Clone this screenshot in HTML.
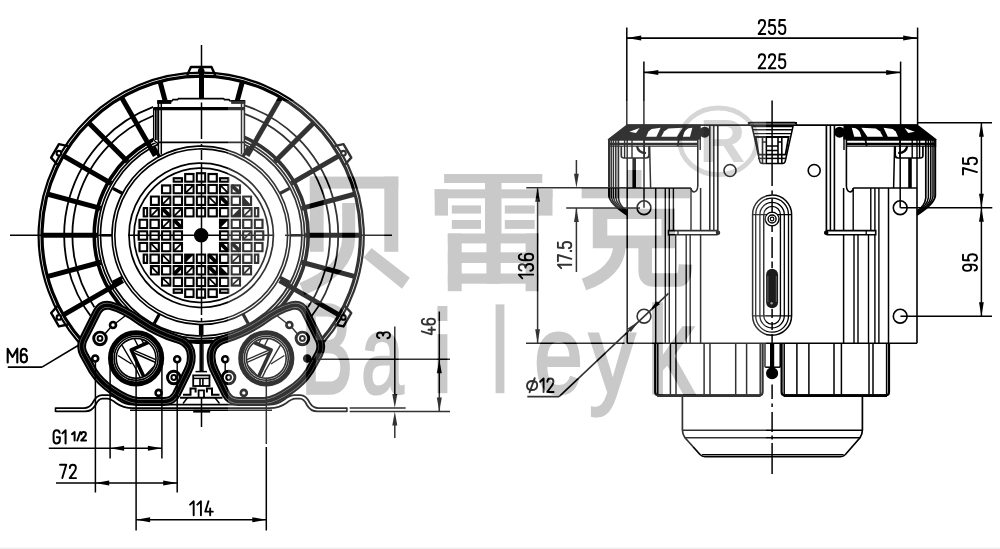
<!DOCTYPE html>
<html><head><meta charset="utf-8"><title>drawing</title>
<style>html,body{margin:0;padding:0;background:#fff;}body{width:1000px;height:549px;overflow:hidden;font-family:"Liberation Sans",sans-serif;}svg{display:block}</style>
</head><body>
<svg width="1000" height="549" viewBox="0 0 1000 549">
<rect width="1000" height="549" fill="#fff"/>
<rect x="0" y="547.5" width="1000" height="1.5" fill="#efefef"/>

<g stroke="#000" fill="none" stroke-linecap="butt">
<path d="M78.48,341.98 A162.6,162.6 0 1 1 323.92,341.98" stroke-width="2.2" />
<path d="M82.89,341.83 A159.2,159.2 0 1 1 319.51,341.83" stroke-width="3.2" />
<path d="M93.24,319.65 A137,137 0 0 1 153.30,106.95" stroke-width="1.8" />
<path d="M244.40,105.29 A137,137 0 0 1 309.16,319.65" stroke-width="1.8" />
<path d="M94.42,307.32 A128.8,128.8 0 0 1 153.30,115.74" stroke-width="1.8" />
<path d="M244.40,113.96 A128.8,128.8 0 0 1 307.98,307.32" stroke-width="1.8" />
<line x1="122.82" y1="280.55" x2="63.07" y2="315.05" stroke-width="5.0" />
<line x1="100.74" y1="262.22" x2="47.13" y2="276.58" stroke-width="5.0" />
<line x1="97.20" y1="235.30" x2="41.70" y2="235.30" stroke-width="5.0" />
<line x1="100.74" y1="208.38" x2="47.13" y2="194.02" stroke-width="5.0" />
<line x1="111.13" y1="183.30" x2="63.07" y2="155.55" stroke-width="5.0" />
<line x1="127.66" y1="161.76" x2="88.42" y2="122.52" stroke-width="5.0" />
<line x1="155.20" y1="155.63" x2="121.45" y2="97.17" stroke-width="5.0" />
<line x1="165.22" y1="101.04" x2="159.92" y2="81.23" stroke-width="5.0" />
<line x1="237.18" y1="101.04" x2="242.48" y2="81.23" stroke-width="5.0" />
<line x1="247.20" y1="155.63" x2="280.95" y2="97.17" stroke-width="5.0" />
<line x1="274.74" y1="161.76" x2="313.98" y2="122.52" stroke-width="5.0" />
<line x1="291.27" y1="183.30" x2="339.33" y2="155.55" stroke-width="5.0" />
<line x1="301.66" y1="208.38" x2="355.27" y2="194.02" stroke-width="5.0" />
<line x1="305.20" y1="235.30" x2="360.70" y2="235.30" stroke-width="5.0" />
<line x1="301.66" y1="262.22" x2="355.27" y2="276.58" stroke-width="5.0" />
<line x1="279.58" y1="280.55" x2="339.33" y2="315.05" stroke-width="5.0" />
<line x1="201.50" y1="70.00" x2="201.50" y2="99.00" stroke-width="5" />
<path d="M67.94,324.48 L58.91,326.45 L51.11,312.95 L57.34,306.12" stroke-width="2.4" fill="none" stroke-linejoin="round"/>
<circle cx="58.91" cy="317.45" r="2.3" stroke-width="2.1" fill="#fff" />
<path d="M57.34,164.48 L51.11,157.65 L58.91,144.15 L67.94,146.12" stroke-width="2.4" fill="none" stroke-linejoin="round"/>
<circle cx="58.91" cy="153.15" r="2.3" stroke-width="2.1" fill="#fff" />
<path d="M187.20,75.30 L190.90,67.00 L211.50,67.00 L215.20,75.30" stroke-width="2.4" fill="none" stroke-linejoin="round"/>
<circle cx="201.20" cy="71.00" r="2.3" stroke-width="2.1" fill="#000" />
<path d="M334.46,146.12 L343.49,144.15 L351.29,157.65 L345.06,164.48" stroke-width="2.4" fill="none" stroke-linejoin="round"/>
<circle cx="343.49" cy="153.15" r="2.3" stroke-width="2.1" fill="#fff" />
<path d="M345.06,306.12 L351.29,312.95 L343.49,326.45 L334.46,324.48" stroke-width="2.4" fill="none" stroke-linejoin="round"/>
<circle cx="343.49" cy="317.45" r="2.3" stroke-width="2.1" fill="#fff" />
<path d="M308.20,235.30 A107.0,107.0 0 1 1 308.20,235.28" stroke-width="3.6" />
<path d="M304.60,235.30 A103.4,103.4 0 1 1 304.60,235.28" stroke-width="1.7" />
<path d="M301.90,235.30 A100.7,100.7 0 1 1 301.90,235.28" stroke-width="1.7" />
<path d="M290.40,235.30 A89.2,89.2 0 1 1 290.40,235.28" stroke-width="1.6" />
<path d="M287.60,235.30 A86.4,86.4 0 1 1 287.60,235.28" stroke-width="1.6" />
<path d="M273.40,235.30 A72.2,72.2 0 1 1 273.40,235.29" stroke-width="1.7" />
<path d="M268.40,235.30 A67.2,67.2 0 1 1 268.40,235.29" stroke-width="1.7" />
<line x1="290.10" y1="235.30" x2="301.10" y2="235.30" stroke-width="2.6" />
<line x1="112.30" y1="235.30" x2="101.30" y2="235.30" stroke-width="2.6" />
<line x1="201.20" y1="324.20" x2="201.20" y2="335.20" stroke-width="4.6" />
<line x1="242.98" y1="313.88" x2="248.15" y2="323.59" stroke-width="3.2" />
<line x1="159.42" y1="313.88" x2="154.25" y2="323.59" stroke-width="3.2" />
<line x1="122.62" y1="277.08" x2="112.91" y2="282.25" stroke-width="3.2" />
<line x1="122.62" y1="193.52" x2="112.91" y2="188.35" stroke-width="3.2" />
<line x1="159.42" y1="156.72" x2="154.25" y2="147.01" stroke-width="3.2" />
<line x1="242.98" y1="156.72" x2="248.15" y2="147.01" stroke-width="3.2" />
<line x1="279.78" y1="193.52" x2="289.49" y2="188.35" stroke-width="3.2" />
<line x1="279.78" y1="277.08" x2="289.49" y2="282.25" stroke-width="3.2" />
<clipPath id="gclip"><circle cx="201.00" cy="235.50" r="65"/></clipPath>
<g clip-path="url(#gclip)">
<rect x="143.74" y="208.05" width="3.51" height="8.50" stroke-width="2.2"/>
<rect x="139.51" y="219.65" width="7.74" height="8.50" stroke-width="2.2"/>
<rect x="138.75" y="231.25" width="8.50" height="8.50" stroke-width="2.2"/>
<rect x="139.51" y="242.85" width="7.74" height="8.50" stroke-width="2.2"/>
<rect x="143.74" y="254.45" width="3.51" height="8.50" stroke-width="2.2"/>
<rect x="150.93" y="196.45" width="7.92" height="8.50" stroke-width="2.2"/>
<rect x="150.35" y="208.05" width="8.50" height="8.50" stroke-width="2.2"/>
<line x1="150.35" y1="216.55" x2="158.85" y2="208.05" stroke-width="1.7" />
<rect x="150.35" y="219.65" width="8.50" height="8.50" stroke-width="2.2"/>
<rect x="150.35" y="231.25" width="8.50" height="8.50" stroke-width="2.2"/>
<rect x="150.35" y="242.85" width="8.50" height="8.50" stroke-width="2.2"/>
<line x1="150.35" y1="242.85" x2="158.85" y2="251.35" stroke-width="1.7" />
<rect x="150.35" y="254.45" width="8.50" height="8.50" stroke-width="2.2"/>
<rect x="150.93" y="266.05" width="7.92" height="8.50" stroke-width="2.2"/>
<line x1="150.93" y1="266.05" x2="158.85" y2="274.55" stroke-width="1.7" />
<rect x="161.95" y="185.43" width="8.50" height="7.92" stroke-width="2.2"/>
<rect x="161.95" y="196.45" width="8.50" height="8.50" stroke-width="2.2"/>
<line x1="161.95" y1="204.95" x2="170.45" y2="196.45" stroke-width="1.7" />
<rect x="161.95" y="208.05" width="8.50" height="8.50" stroke-width="2.2"/>
<line x1="161.95" y1="208.05" x2="170.45" y2="216.55" stroke-width="3.8" />
<rect x="161.95" y="219.65" width="8.50" height="8.50" stroke-width="2.2"/>
<line x1="161.95" y1="228.15" x2="170.45" y2="219.65" stroke-width="1.7" />
<rect x="161.95" y="231.25" width="8.50" height="8.50" stroke-width="2.2"/>
<rect x="161.95" y="242.85" width="8.50" height="8.50" stroke-width="2.2"/>
<rect x="161.95" y="254.45" width="8.50" height="8.50" stroke-width="2.2"/>
<line x1="161.95" y1="254.45" x2="170.45" y2="262.95" stroke-width="1.7" />
<rect x="161.95" y="266.05" width="8.50" height="8.50" stroke-width="2.2"/>
<rect x="161.95" y="277.65" width="8.50" height="7.92" stroke-width="2.2"/>
<line x1="161.95" y1="277.65" x2="170.45" y2="285.57" stroke-width="1.7" />
<rect x="173.55" y="178.24" width="8.50" height="3.51" stroke-width="2.2"/>
<rect x="173.55" y="184.85" width="8.50" height="8.50" stroke-width="2.2"/>
<rect x="173.55" y="196.45" width="8.50" height="8.50" stroke-width="2.2"/>
<rect x="173.55" y="208.05" width="8.50" height="8.50" stroke-width="2.2"/>
<line x1="173.55" y1="216.55" x2="182.05" y2="208.05" stroke-width="1.7" />
<rect x="173.55" y="219.65" width="8.50" height="8.50" stroke-width="2.2"/>
<line x1="173.55" y1="219.65" x2="182.05" y2="228.15" stroke-width="3.8" />
<rect x="173.55" y="231.25" width="8.50" height="8.50" stroke-width="2.2"/>
<rect x="173.55" y="242.85" width="8.50" height="8.50" stroke-width="2.2"/>
<line x1="173.55" y1="251.35" x2="182.05" y2="242.85" stroke-width="1.7" />
<rect x="173.55" y="254.45" width="8.50" height="8.50" stroke-width="2.2"/>
<rect x="173.55" y="266.05" width="8.50" height="8.50" stroke-width="2.2"/>
<line x1="173.55" y1="274.55" x2="182.05" y2="266.05" stroke-width="3.8" />
<rect x="173.55" y="277.65" width="8.50" height="8.50" stroke-width="2.2"/>
<rect x="173.55" y="289.25" width="8.50" height="3.51" stroke-width="2.2"/>
<rect x="185.15" y="174.01" width="8.50" height="7.74" stroke-width="2.2"/>
<rect x="185.15" y="184.85" width="8.50" height="8.50" stroke-width="2.2"/>
<line x1="185.15" y1="193.35" x2="193.65" y2="184.85" stroke-width="1.7" />
<rect x="185.15" y="196.45" width="8.50" height="8.50" stroke-width="2.2"/>
<rect x="185.15" y="208.05" width="8.50" height="8.50" stroke-width="2.2"/>
<rect x="185.15" y="254.45" width="8.50" height="8.50" stroke-width="2.2"/>
<polygon points="185.15,254.45 193.65,254.45 185.15,262.95" fill="#000" stroke="none"/>
<rect x="185.15" y="266.05" width="8.50" height="8.50" stroke-width="2.2"/>
<line x1="185.15" y1="274.55" x2="193.65" y2="266.05" stroke-width="1.7" />
<rect x="185.15" y="277.65" width="8.50" height="8.50" stroke-width="2.2"/>
<rect x="185.15" y="289.25" width="8.50" height="7.74" stroke-width="2.2"/>
<rect x="196.75" y="173.25" width="8.50" height="8.50" stroke-width="2.2"/>
<rect x="196.75" y="184.85" width="8.50" height="8.50" stroke-width="2.2"/>
<rect x="196.75" y="196.45" width="8.50" height="8.50" stroke-width="2.2"/>
<rect x="196.75" y="208.05" width="8.50" height="8.50" stroke-width="2.2"/>
<rect x="196.75" y="254.45" width="8.50" height="8.50" stroke-width="2.2"/>
<rect x="196.75" y="266.05" width="8.50" height="8.50" stroke-width="2.2"/>
<rect x="196.75" y="277.65" width="8.50" height="8.50" stroke-width="2.2"/>
<rect x="196.75" y="289.25" width="8.50" height="8.50" stroke-width="2.2"/>
<rect x="208.35" y="174.01" width="8.50" height="7.74" stroke-width="2.2"/>
<rect x="208.35" y="184.85" width="8.50" height="8.50" stroke-width="2.2"/>
<rect x="208.35" y="196.45" width="8.50" height="8.50" stroke-width="2.2"/>
<line x1="208.35" y1="196.45" x2="216.85" y2="204.95" stroke-width="1.7" />
<rect x="208.35" y="208.05" width="8.50" height="8.50" stroke-width="2.2"/>
<rect x="208.35" y="254.45" width="8.50" height="8.50" stroke-width="2.2"/>
<line x1="208.35" y1="254.45" x2="216.85" y2="262.95" stroke-width="3.8" />
<rect x="208.35" y="266.05" width="8.50" height="8.50" stroke-width="2.2"/>
<line x1="208.35" y1="266.05" x2="216.85" y2="274.55" stroke-width="3.8" />
<rect x="208.35" y="277.65" width="8.50" height="8.50" stroke-width="2.2"/>
<line x1="208.35" y1="277.65" x2="216.85" y2="286.15" stroke-width="1.7" />
<rect x="208.35" y="289.25" width="8.50" height="7.74" stroke-width="2.2"/>
<rect x="219.95" y="178.24" width="8.50" height="3.51" stroke-width="2.2"/>
<rect x="219.95" y="184.85" width="8.50" height="8.50" stroke-width="2.2"/>
<line x1="219.95" y1="184.85" x2="228.45" y2="193.35" stroke-width="1.7" />
<rect x="219.95" y="196.45" width="8.50" height="8.50" stroke-width="2.2"/>
<line x1="219.95" y1="196.45" x2="228.45" y2="204.95" stroke-width="3.8" />
<rect x="219.95" y="208.05" width="8.50" height="8.50" stroke-width="2.2"/>
<rect x="219.95" y="219.65" width="8.50" height="8.50" stroke-width="2.2"/>
<polygon points="219.95,219.65 228.45,219.65 219.95,228.15" fill="#000" stroke="none"/>
<rect x="219.95" y="231.25" width="8.50" height="8.50" stroke-width="2.2"/>
<rect x="219.95" y="242.85" width="8.50" height="8.50" stroke-width="2.2"/>
<line x1="219.95" y1="242.85" x2="228.45" y2="251.35" stroke-width="3.8" />
<rect x="219.95" y="254.45" width="8.50" height="8.50" stroke-width="2.2"/>
<rect x="219.95" y="266.05" width="8.50" height="8.50" stroke-width="2.2"/>
<polygon points="219.95,266.05 219.95,274.55 228.45,274.55" fill="#000" stroke="none"/>
<rect x="219.95" y="277.65" width="8.50" height="8.50" stroke-width="2.2"/>
<rect x="219.95" y="289.25" width="8.50" height="3.51" stroke-width="2.2"/>
<rect x="231.55" y="185.43" width="8.50" height="7.92" stroke-width="2.2"/>
<line x1="231.55" y1="185.43" x2="240.05" y2="193.35" stroke-width="3.8" />
<rect x="231.55" y="196.45" width="8.50" height="8.50" stroke-width="2.2"/>
<rect x="231.55" y="208.05" width="8.50" height="8.50" stroke-width="2.2"/>
<polygon points="240.05,208.05 240.05,216.55 231.55,216.55" fill="#000" stroke="none"/>
<rect x="231.55" y="219.65" width="8.50" height="8.50" stroke-width="2.2"/>
<rect x="231.55" y="231.25" width="8.50" height="8.50" stroke-width="2.2"/>
<rect x="231.55" y="242.85" width="8.50" height="8.50" stroke-width="2.2"/>
<line x1="231.55" y1="242.85" x2="240.05" y2="251.35" stroke-width="3.8" />
<rect x="231.55" y="254.45" width="8.50" height="8.50" stroke-width="2.2"/>
<line x1="231.55" y1="262.95" x2="240.05" y2="254.45" stroke-width="1.7" />
<rect x="231.55" y="266.05" width="8.50" height="8.50" stroke-width="2.2"/>
<rect x="231.55" y="277.65" width="8.50" height="7.92" stroke-width="2.2"/>
<line x1="231.55" y1="285.57" x2="240.05" y2="277.65" stroke-width="1.7" />
<rect x="243.15" y="196.45" width="7.92" height="8.50" stroke-width="2.2"/>
<polygon points="243.15,196.45 243.15,204.95 251.07,204.95" fill="#000" stroke="none"/>
<rect x="243.15" y="208.05" width="8.50" height="8.50" stroke-width="2.2"/>
<line x1="243.15" y1="216.55" x2="251.65" y2="208.05" stroke-width="1.7" />
<rect x="243.15" y="219.65" width="8.50" height="8.50" stroke-width="2.2"/>
<rect x="243.15" y="231.25" width="8.50" height="8.50" stroke-width="2.2"/>
<line x1="243.15" y1="239.75" x2="251.65" y2="231.25" stroke-width="1.7" />
<rect x="243.15" y="242.85" width="8.50" height="8.50" stroke-width="2.2"/>
<rect x="243.15" y="254.45" width="8.50" height="8.50" stroke-width="2.2"/>
<rect x="243.15" y="266.05" width="7.92" height="8.50" stroke-width="2.2"/>
<line x1="243.15" y1="274.55" x2="251.07" y2="266.05" stroke-width="1.7" />
<rect x="254.75" y="208.05" width="3.51" height="8.50" stroke-width="2.2"/>
<rect x="254.75" y="219.65" width="7.74" height="8.50" stroke-width="2.2"/>
<rect x="254.75" y="231.25" width="8.50" height="8.50" stroke-width="2.2"/>
<rect x="254.75" y="242.85" width="7.74" height="8.50" stroke-width="2.2"/>
<rect x="254.75" y="254.45" width="3.51" height="8.50" stroke-width="2.2"/>
<line x1="148.80" y1="169.5" x2="148.80" y2="301.5" stroke="#fff" stroke-width="0.8"/>
<line y1="183.30" x1="135.0" y2="183.30" x2="267.0" stroke="#fff" stroke-width="0.8"/>
<line x1="160.40" y1="169.5" x2="160.40" y2="301.5" stroke="#fff" stroke-width="0.8"/>
<line y1="194.90" x1="135.0" y2="194.90" x2="267.0" stroke="#fff" stroke-width="0.8"/>
<line x1="172.00" y1="169.5" x2="172.00" y2="301.5" stroke="#fff" stroke-width="0.8"/>
<line y1="206.50" x1="135.0" y2="206.50" x2="267.0" stroke="#fff" stroke-width="0.8"/>
<line x1="183.60" y1="169.5" x2="183.60" y2="301.5" stroke="#fff" stroke-width="0.8"/>
<line y1="218.10" x1="135.0" y2="218.10" x2="267.0" stroke="#fff" stroke-width="0.8"/>
<line x1="195.20" y1="169.5" x2="195.20" y2="301.5" stroke="#fff" stroke-width="0.8"/>
<line y1="229.70" x1="135.0" y2="229.70" x2="267.0" stroke="#fff" stroke-width="0.8"/>
<line x1="206.80" y1="169.5" x2="206.80" y2="301.5" stroke="#fff" stroke-width="0.8"/>
<line y1="241.30" x1="135.0" y2="241.30" x2="267.0" stroke="#fff" stroke-width="0.8"/>
<line x1="218.40" y1="169.5" x2="218.40" y2="301.5" stroke="#fff" stroke-width="0.8"/>
<line y1="252.90" x1="135.0" y2="252.90" x2="267.0" stroke="#fff" stroke-width="0.8"/>
<line x1="230.00" y1="169.5" x2="230.00" y2="301.5" stroke="#fff" stroke-width="0.8"/>
<line y1="264.50" x1="135.0" y2="264.50" x2="267.0" stroke="#fff" stroke-width="0.8"/>
<line x1="241.60" y1="169.5" x2="241.60" y2="301.5" stroke="#fff" stroke-width="0.8"/>
<line y1="276.10" x1="135.0" y2="276.10" x2="267.0" stroke="#fff" stroke-width="0.8"/>
<line x1="253.20" y1="169.5" x2="253.20" y2="301.5" stroke="#fff" stroke-width="0.8"/>
<line y1="287.70" x1="135.0" y2="287.70" x2="267.0" stroke="#fff" stroke-width="0.8"/>
</g>
<circle cx="201.20" cy="235.30" r="6.6" stroke-width="1.3" fill="#000" />
<rect x="153.3" y="100.6" width="91.1" height="42" fill="#fff" stroke="none"/>
<path d="M158.4,142 L244.4,142 L244.4,152.9 A93,93 0 0 0 158.4,152.7 Z" fill="#fff" stroke="none"/>
<rect x="158.4" y="100.6" width="86" height="9" fill="#fff" stroke="none"/>
<rect x="178" y="98.2" width="46" height="4" fill="#fff" stroke="none"/>
<path d="M158.4,142.4 L158.4,101 L172,101 L173,99.6 L177.5,99.6 L178.5,98.6 L223.5,98.6 L224.5,99.6 L229,99.6 L230,101 L244.4,101 L244.4,142.4" stroke-width="1.6" fill="none" />
<line x1="153.30" y1="108.60" x2="244.40" y2="108.60" stroke-width="3.4" />
<line x1="161.30" y1="101.00" x2="161.30" y2="154.50" stroke-width="1.5" />
<line x1="241.50" y1="101.00" x2="241.50" y2="154.50" stroke-width="1.5" />
<line x1="158.40" y1="142.40" x2="158.40" y2="153.00" stroke-width="1.5" />
<line x1="244.40" y1="142.40" x2="244.40" y2="153.00" stroke-width="1.5" />
<line x1="158.40" y1="142.40" x2="244.40" y2="142.40" stroke-width="1.6" />
<line x1="153.60" y1="108.00" x2="153.60" y2="140.00" stroke-width="1.3" />
<line x1="155.50" y1="108.00" x2="155.50" y2="140.00" stroke-width="1.3" />
<line x1="157.00" y1="108.00" x2="157.00" y2="140.00" stroke-width="1.3" />
<line x1="153.60" y1="140.00" x2="158.40" y2="144.00" stroke-width="1.3" />
<path d="M157.5,100.5 L171,100.5 L171,103.5 L157.5,103.5 Z" stroke-width="0.8" fill="#000" />
<path d="M231.5,100.5 L245,100.5 L245,103.5 L231.5,103.5 Z" stroke-width="0.8" fill="#000" />
<g id="flg">
<path d="M97,312 Q101,304 110,305.5 Q124,309 140,321 Q158,333 176,338.5 Q188,341.5 190.6,351 Q193,361 187.5,371.5 L176.5,394 Q172.5,401.5 164,401.5 L138,401.5 Q128,401 112,390 Q100,382 93,371 L83.5,354 Q80,347 83,340 Z" stroke-width="8.8" fill="#fff" stroke-linejoin="round"/>
<path d="M97,312 Q101,304 110,305.5 Q124,309 140,321 Q158,333 176,338.5 Q188,341.5 190.6,351 Q193,361 187.5,371.5 L176.5,394 Q172.5,401.5 164,401.5 L138,401.5 Q128,401 112,390 Q100,382 93,371 L83.5,354 Q80,347 83,340 Z" stroke-width="4.8" fill="none" stroke="#777" stroke-linejoin="round"/>
<path d="M97,312 Q101,304 110,305.5 Q124,309 140,321 Q158,333 176,338.5 Q188,341.5 190.6,351 Q193,361 187.5,371.5 L176.5,394 Q172.5,401.5 164,401.5 L138,401.5 Q128,401 112,390 Q100,382 93,371 L83.5,354 Q80,347 83,340 Z" stroke-width="3.7" fill="none" stroke-linejoin="round"/>
<circle cx="136.10" cy="358.30" r="25.6" stroke-width="5.0" fill="#fff" />
<circle cx="136.10" cy="358.30" r="22.0" stroke-width="1.6" fill="none" />
<circle cx="136.10" cy="358.30" r="19.9" stroke-width="1.6" fill="none" />
<clipPath id="pclip"><circle cx="136.1" cy="358.3" r="19.6"/></clipPath>
<g clip-path="url(#pclip)">
<path d="M148.5,342.4 L131.3,349.9 L143.7,376.4" stroke-width="3.6" fill="none" stroke-linejoin="round" stroke-linecap="round"/>
<line x1="133.50" y1="350.20" x2="159.00" y2="361.00" stroke-width="1.4000000000000001" />
<line x1="133.00" y1="352.50" x2="158.00" y2="363.50" stroke-width="1.4000000000000001" />
<line x1="159.00" y1="361.00" x2="140.00" y2="381.00" stroke-width="1.4000000000000001" />
<line x1="121.80" y1="344.80" x2="137.50" y2="371.50" stroke-width="1.4000000000000001" />
<line x1="118.00" y1="355.50" x2="131.50" y2="364.00" stroke-width="1.4000000000000001" />
<line x1="133.50" y1="337.00" x2="137.90" y2="345.80" stroke-width="1.4000000000000001" />
<line x1="139.50" y1="336.00" x2="144.20" y2="344.40" stroke-width="1.4000000000000001" />
<line x1="137.00" y1="371.00" x2="142.00" y2="381.00" stroke-width="1.4000000000000001" />
</g>
<circle cx="113.00" cy="325.00" r="3.0" stroke-width="2.6" fill="#fff" />
<circle cx="95.20" cy="358.50" r="3.0" stroke-width="2.6" fill="#fff" />
<circle cx="177.20" cy="359.30" r="3.0" stroke-width="2.6" fill="#fff" />
<circle cx="158.60" cy="392.90" r="3.0" stroke-width="2.6" fill="#fff" />
<circle cx="100.00" cy="338.40" r="6.3" stroke-width="2.9" fill="#fff" />
<circle cx="100.00" cy="338.40" r="2.4" stroke-width="2.0" fill="none" />
<circle cx="173.80" cy="377.50" r="6.3" stroke-width="2.9" fill="#fff" />
<circle cx="173.80" cy="377.50" r="2.4" stroke-width="2.0" fill="none" />
<line x1="104.00" y1="335.00" x2="110.50" y2="327.50" stroke-width="1.4000000000000001" />
<line x1="116.00" y1="323.00" x2="125.00" y2="316.00" stroke-width="1.4000000000000001" />
<line x1="177.20" y1="362.50" x2="177.20" y2="372.00" stroke-width="1.4000000000000001" />
</g>
<use href="#flg" transform="translate(402.40,0) scale(-1,1)"/>
<circle cx="307.20" cy="358.80" r="2.6" stroke-width="1.6" fill="#000" />
<rect x="193.2" y="375.4" width="16.3" height="10.6" fill="#fff" stroke-width="1.8"/>
<line x1="193.20" y1="378.40" x2="209.50" y2="378.40" stroke-width="1.5" />
<line x1="200.00" y1="378.40" x2="200.00" y2="386.00" stroke-width="1.6" />
<line x1="202.90" y1="378.40" x2="202.90" y2="386.00" stroke-width="1.6" />
<path d="M183,394.8 L190.5,394.8 L190.5,388.4 L195.6,388.4 L195.6,392.4 M206.9,392.4 L206.9,388.4 L212,388.4 L212,394.8 L219.5,394.8" stroke-width="2.0" fill="none" />
<path d="M198.6,397.5 L198.6,390.4 L204,390.4 L204,397.5" stroke-width="1.8" fill="none" />
<line x1="180.00" y1="397.80" x2="222.50" y2="397.80" stroke-width="2.0" />
<path d="M187.5,397.8 L183,403.5 M215,397.8 L219.5,403.5" stroke-width="1.5" fill="none" />
<line x1="193.20" y1="411.20" x2="210.20" y2="411.20" stroke-width="2.8" />
<line x1="200.20" y1="342.00" x2="200.20" y2="371.00" stroke-width="1.5" />
<line x1="202.90" y1="342.00" x2="202.90" y2="371.00" stroke-width="1.5" />
<line x1="189.50" y1="340.30" x2="212.50" y2="340.30" stroke-width="1.5" />
<line x1="195.50" y1="371.60" x2="207.00" y2="371.60" stroke-width="1.5" />
<path d="M55.50,408.1 L84.00,408.1 Q89.50,408 92.50,403 Q96.50,395.2 102.00,395.2 L108.00,395.2 Q112.00,395.2 118.00,399.5 Q125.00,404.6 133.00,404.6 L201.30,404.6" stroke-width="1.7" fill="none" />
<path d="M55.50,411.4 L85.00,411.4 Q92.00,411.3 95.50,405 Q98.50,398.6 102.50,398.6 L107.00,398.6 Q110.50,398.6 116.00,403 Q123.00,408.2 133.00,408.2 L201.30,408.2" stroke-width="1.8" fill="none" />
<line x1="55.50" y1="407.50" x2="55.50" y2="412.00" stroke-width="1.6" />
<path d="M346.90,408.1 L318.40,408.1 Q312.90,408 309.90,403 Q305.90,395.2 300.40,395.2 L294.40,395.2 Q290.40,395.2 284.40,399.5 Q277.40,404.6 269.40,404.6 L201.10,404.6" stroke-width="1.7" fill="none" />
<path d="M346.90,411.4 L317.40,411.4 Q310.40,411.3 306.90,405 Q303.90,398.6 299.90,398.6 L295.40,398.6 Q291.90,398.6 286.40,403 Q279.40,408.2 269.40,408.2 L201.10,408.2" stroke-width="1.8" fill="none" />
<line x1="346.90" y1="407.50" x2="346.90" y2="412.00" stroke-width="1.6" />
<line x1="130.00" y1="410.30" x2="272.00" y2="410.30" stroke-width="1.6" />
<line x1="201.50" y1="45.00" x2="201.50" y2="70.00" stroke-width="1.5" />
<line x1="201.50" y1="102.50" x2="201.50" y2="139.00" stroke-width="1.5" />
<line x1="201.50" y1="144.00" x2="201.50" y2="146.00" stroke-width="1.5" />
<line x1="201.50" y1="150.00" x2="201.50" y2="160.00" stroke-width="1.5" />
<line x1="201.50" y1="163.00" x2="201.50" y2="196.00" stroke-width="1.5" />
<line x1="201.50" y1="275.00" x2="201.50" y2="315.00" stroke-width="1.5" />
<line x1="201.50" y1="318.00" x2="201.50" y2="321.00" stroke-width="1.5" />
<line x1="201.50" y1="330.00" x2="201.50" y2="372.00" stroke-width="1.5" />
<line x1="201.50" y1="397.00" x2="201.50" y2="427.00" stroke-width="1.5" />
<line x1="201.50" y1="196.00" x2="201.50" y2="275.00" stroke-width="1.5" />
<line x1="10.00" y1="235.30" x2="109.00" y2="235.30" stroke-width="1.5" />
<line x1="128.00" y1="235.30" x2="273.00" y2="235.30" stroke-width="1.5" />
<line x1="285.00" y1="235.30" x2="296.00" y2="235.30" stroke-width="1.5" />
<line x1="296.00" y1="235.30" x2="392.00" y2="235.30" stroke-width="1.5" />
<line x1="7.80" y1="367.10" x2="42.00" y2="367.10" stroke-width="1.6" />
<line x1="42.00" y1="367.10" x2="78.00" y2="345.50" stroke-width="1.6" />
<g transform="translate(7.70,362.40) scale(0.9786,0.9786) translate(0,-14)" stroke-width="2.100" stroke-linecap="round" stroke-linejoin="round" fill="none"><path vector-effect="non-scaling-stroke" transform="translate(0.00,0) scale(1.0,1)" d="M0,14 L0,0 L4.9,8.4 L9.8,0 L9.8,14"/><path vector-effect="non-scaling-stroke" transform="translate(13.20,0) scale(0.93,1)" d="M6.6,2.4 Q6.1,0 3.7,0 Q0.2,0 0.2,4.6 L0.2,9.8 Q0.2,14 3.6,14 Q7,14 7,9.8 Q7,5.8 3.6,5.8 Q0.9,5.8 0.2,8.6"/></g>
<line x1="95.40" y1="362.00" x2="95.40" y2="492.50" stroke-width="1.5" />
<line x1="110.10" y1="362.00" x2="110.10" y2="458.50" stroke-width="1.5" />
<line x1="136.10" y1="360.00" x2="136.10" y2="530.50" stroke-width="1.5" />
<line x1="161.90" y1="362.00" x2="161.90" y2="458.50" stroke-width="1.5" />
<line x1="177.20" y1="372.00" x2="177.20" y2="492.50" stroke-width="1.5" />
<line x1="266.30" y1="378.00" x2="266.30" y2="444.00" stroke-width="1.5" />
<line x1="266.30" y1="447.00" x2="266.30" y2="530.50" stroke-width="1.5" />
<line x1="48.80" y1="448.20" x2="161.90" y2="448.20" stroke-width="1.5" />
<polygon points="110.10,448.20 124.10,445.70 124.10,450.70" fill="#000" stroke="none"/>
<polygon points="161.90,448.20 147.90,450.70 147.90,445.70" fill="#000" stroke="none"/>
<g transform="translate(53.40,443.40) scale(0.8957,0.9429) translate(0,-14)" stroke-width="2.000" stroke-linecap="round" stroke-linejoin="round" fill="none"><path vector-effect="non-scaling-stroke" transform="translate(0.00,0) scale(1.0,1)" d="M7,2.8 Q6.4,0 3.8,0 Q0.2,0 0.2,4 L0.2,10 Q0.2,14 3.8,14 Q7.2,14 7.2,10.4 L7.2,7.6 L3.9,7.6"/><path vector-effect="non-scaling-stroke" transform="translate(10.00,0) scale(1.0,1)" d="M0,3.4 L3.6,0 L3.6,14"/></g>
<g transform="translate(72.00,440.50) scale(0.7200,0.6000) translate(0,-14)" stroke-width="2.000" stroke-linecap="round" stroke-linejoin="round" fill="none"><path vector-effect="non-scaling-stroke" transform="translate(0.00,0) scale(1.0,1)" d="M0,3.4 L3.6,0 L3.6,14"/><path vector-effect="non-scaling-stroke" transform="translate(7.30,0) scale(1.0,1)" d="M0,14 L4.2,0"/><path vector-effect="non-scaling-stroke" transform="translate(12.80,0) scale(0.93,1)" d="M0.2,3.4 Q0.2,0 3.6,0 Q7,0 7,3.3 Q7,5.6 5,7.8 L0,14 L7.2,14"/></g>
<line x1="56.00" y1="482.90" x2="177.20" y2="482.90" stroke-width="1.5" />
<polygon points="95.20,482.90 109.20,480.40 109.20,485.40" fill="#000" stroke="none"/>
<polygon points="177.20,482.90 163.20,485.40 163.20,480.40" fill="#000" stroke="none"/>
<g transform="translate(60.00,478.10) scale(0.9571,0.9571) translate(0,-14)" stroke-width="1.900" stroke-linecap="round" stroke-linejoin="round" fill="none"><path vector-effect="non-scaling-stroke" transform="translate(0.00,0) scale(0.93,1)" d="M0,0 L7,0 L2.6,14"/><path vector-effect="non-scaling-stroke" transform="translate(10.10,0) scale(0.93,1)" d="M0.2,3.4 Q0.2,0 3.6,0 Q7,0 7,3.3 Q7,5.6 5,7.8 L0,14 L7.2,14"/></g>
<line x1="136.10" y1="519.80" x2="266.30" y2="519.80" stroke-width="1.6" />
<polygon points="136.10,519.80 150.10,517.30 150.10,522.30" fill="#000" stroke="none"/>
<polygon points="266.30,519.80 252.30,522.30 252.30,517.30" fill="#000" stroke="none"/>
<g transform="translate(190.10,515.20) scale(0.9929,0.9929) translate(0,-14)" stroke-width="1.900" stroke-linecap="round" stroke-linejoin="round" fill="none"><path vector-effect="non-scaling-stroke" transform="translate(0.00,0) scale(1.0,1)" d="M0,3.4 L3.6,0 L3.6,14"/><path vector-effect="non-scaling-stroke" transform="translate(7.30,0) scale(1.0,1)" d="M0,3.4 L3.6,0 L3.6,14"/><path vector-effect="non-scaling-stroke" transform="translate(14.60,0) scale(1.0,1)" d="M3.9,0 L0.7,10.4 L8.3,10.4 M5.6,7.1 L5.6,14"/></g>
<line x1="308.00" y1="359.30" x2="450.00" y2="359.30" stroke-width="1.5" />
<line x1="349.70" y1="411.50" x2="450.00" y2="411.50" stroke-width="1.5" />
<line x1="349.70" y1="407.90" x2="405.70" y2="407.90" stroke-width="1.5" />
<line x1="394.80" y1="326.50" x2="394.80" y2="396.00" stroke-width="1.5" />
<polygon points="394.80,407.90 392.30,393.90 397.30,393.90" fill="#000" stroke="none"/>
<line x1="394.80" y1="424.00" x2="394.80" y2="438.00" stroke-width="1.5" />
<polygon points="394.80,411.50 397.30,425.50 392.30,425.50" fill="#000" stroke="none"/>
<line x1="439.30" y1="311.50" x2="439.30" y2="411.50" stroke-width="1.5" />
<polygon points="439.30,359.30 441.80,373.30 436.80,373.30" fill="#000" stroke="none"/>
<polygon points="439.30,411.50 436.80,397.50 441.80,397.50" fill="#000" stroke="none"/>
<g transform="translate(390.00,338.30) rotate(-90) scale(0.9286,0.9286) translate(0,-14)" stroke-width="1.900" stroke-linecap="round" stroke-linejoin="round" fill="none"><path vector-effect="non-scaling-stroke" transform="translate(0.00,0) scale(0.93,1)" d="M0.2,2.6 Q0.7,0 3.5,0 Q6.8,0 6.8,3.3 Q6.8,6.4 3.3,6.5 Q7.1,6.6 7.1,10.3 Q7.1,14 3.5,14 Q0.5,14 0,11.2"/></g>
<g transform="translate(435.00,335.00) rotate(-90) scale(0.9429,0.9429) translate(0,-14)" stroke-width="1.900" stroke-linecap="round" stroke-linejoin="round" fill="none"><path vector-effect="non-scaling-stroke" transform="translate(0.00,0) scale(1.0,1)" d="M3.9,0 L0.7,10.4 L8.3,10.4 M5.6,7.1 L5.6,14"/><path vector-effect="non-scaling-stroke" transform="translate(10.90,0) scale(0.93,1)" d="M6.6,2.4 Q6.1,0 3.7,0 Q0.2,0 0.2,4.6 L0.2,9.8 Q0.2,14 3.6,14 Q7,14 7,9.8 Q7,5.8 3.6,5.8 Q0.9,5.8 0.2,8.6"/></g>
<path d="M627.00,125.2 L700.00,125.2 L700.00,138.8 L609.50,138.8 Z" stroke-width="1.5" fill="#000" />
<polygon points="629.40,131.80 639.60,128.00 636.00,133.00" fill="#fff" stroke="none"/>
<polygon points="646.20,136.80 648.50,131.50 651.60,129.00 660.60,127.80 656.40,136.80" fill="#fff" stroke="none"/>
<polygon points="661.20,136.80 664.30,131.30 668.40,128.60 682.80,127.80 676.80,136.80" fill="#fff" stroke="none"/>
<polygon points="682.80,136.80 684.60,131.50 686.80,128.60 692.40,127.80 690.00,136.80" fill="#fff" stroke="none"/>
<path d="M677.50,146 Q679.00,133 689.00,126.5" stroke-width="1.6" fill="none" />
<line x1="609.00" y1="139.80" x2="697.80" y2="139.80" stroke-width="1.8" />
<line x1="609.00" y1="143.80" x2="697.80" y2="143.80" stroke-width="2.3" />
<line x1="609.00" y1="146.20" x2="697.80" y2="146.20" stroke-width="1.3" />
<path d="M609.00,139 L609.00,196.0 Q610.00,204.0 627.20,215.0" stroke-width="2.0" fill="none" />
<path d="M611.20,139 L611.20,196.5 Q612.20,204.5 627.20,214.0" stroke-width="1.5" fill="none" />
<path d="M613.40,139 L613.40,197.0 Q614.40,205.0 627.20,213.0" stroke-width="1.5" fill="none" />
<path d="M615.80,139 L615.80,197.5 Q616.80,205.5 627.20,212.0" stroke-width="1.5" fill="none" />
<path d="M618.40,139 L618.40,198.0 Q619.40,206.0 627.20,211.0" stroke-width="1.7" fill="none" />
<line x1="609.00" y1="139.00" x2="609.00" y2="147.00" stroke-width="2.0" />
<path d="M621.30,146 L621.30,156 Q621.50,158 624.00,158 L646.00,158 Q649.00,158 649.00,155 L649.00,146" stroke-width="1.7" fill="none" />
<line x1="624.60" y1="139.00" x2="624.60" y2="158.00" stroke-width="1.4000000000000001" />
<line x1="627.20" y1="139.00" x2="627.20" y2="158.00" stroke-width="1.4000000000000001" />
<line x1="632.00" y1="139.00" x2="632.00" y2="158.00" stroke-width="1.4000000000000001" />
<line x1="644.30" y1="139.00" x2="644.30" y2="158.00" stroke-width="1.4000000000000001" />
<line x1="627.20" y1="158.00" x2="627.20" y2="188.00" stroke-width="1.5" />
<line x1="644.00" y1="125.50" x2="644.00" y2="188.00" stroke-width="1.5" />
<line x1="634.20" y1="158.00" x2="634.20" y2="188.00" stroke-width="3.6" />
<line x1="649.60" y1="146.00" x2="650.60" y2="188.00" stroke-width="1.5" />
<path d="M637.00,146 Q638.00,153 646.00,153" stroke-width="2.2" fill="none" />
<line x1="697.80" y1="139.00" x2="697.80" y2="186.00" stroke-width="1.6" />
<line x1="700.20" y1="130.00" x2="700.20" y2="150.00" stroke-width="1.4000000000000001" />
<path d="M697.80,186 Q697.50,191.5 694.00,192 Q691.00,191.5 691.00,188" stroke-width="1.5" fill="none" />
<circle cx="704.60" cy="132.20" r="4.3" stroke-width="2.4" fill="#000" />
<line x1="709.80" y1="126.00" x2="709.80" y2="231.00" stroke-width="1.6" />
<line x1="713.80" y1="126.00" x2="713.80" y2="231.00" stroke-width="1.5" />
<line x1="717.80" y1="126.00" x2="717.80" y2="231.00" stroke-width="1.7" />
<line x1="627.20" y1="188.00" x2="691.00" y2="188.00" stroke-width="1.6" />
<line x1="627.20" y1="188.00" x2="627.20" y2="343.20" stroke-width="1.6" />
<circle cx="644.00" cy="207.70" r="6.9" stroke-width="1.6" fill="#fff" />
<line x1="644.00" y1="188.00" x2="644.00" y2="207.70" stroke-width="1.5" />
<circle cx="644.00" cy="316.20" r="6.9" stroke-width="1.6" fill="#fff" />
<circle cx="730.00" cy="170.50" r="6.0" stroke-width="1.6" fill="#fff" />
<line x1="655.70" y1="188.00" x2="655.70" y2="343.20" stroke-width="1.5" />
<line x1="665.30" y1="188.00" x2="665.30" y2="343.20" stroke-width="1.4000000000000001" />
<line x1="669.30" y1="188.00" x2="669.30" y2="343.20" stroke-width="1.4000000000000001" />
<line x1="673.40" y1="188.00" x2="673.40" y2="231.00" stroke-width="1.4000000000000001" />
<line x1="675.70" y1="235.00" x2="675.70" y2="343.20" stroke-width="1.4000000000000001" />
<line x1="691.00" y1="188.00" x2="691.00" y2="231.00" stroke-width="1.4000000000000001" />
<line x1="700.60" y1="188.00" x2="700.60" y2="343.20" stroke-width="1.5" />
<line x1="686.20" y1="235.00" x2="686.20" y2="343.20" stroke-width="1.4000000000000001" />
<line x1="690.20" y1="235.00" x2="690.20" y2="343.20" stroke-width="1.4000000000000001" />
<path d="M668.50,230.6 L717.00,230.6 Q719.50,232.6 717.00,234.8 L668.50,234.8 Z" stroke-width="1.6" fill="#fff" />
<line x1="678.00" y1="230.60" x2="678.00" y2="234.80" stroke-width="1.3" />
<circle cx="718.00" cy="232.70" r="1.6" stroke-width="1.3" fill="#000" />
<line x1="627.20" y1="343.20" x2="772.10" y2="343.20" stroke-width="1.6" />
<path d="M917.20,125.2 L844.20,125.2 L844.20,138.8 L934.70,138.8 Z" stroke-width="1.5" fill="#000" />
<polygon points="914.80,131.80 904.60,128.00 908.20,133.00" fill="#fff" stroke="none"/>
<polygon points="898.00,136.80 895.70,131.50 892.60,129.00 883.60,127.80 887.80,136.80" fill="#fff" stroke="none"/>
<polygon points="883.00,136.80 879.90,131.30 875.80,128.60 861.40,127.80 867.40,136.80" fill="#fff" stroke="none"/>
<polygon points="861.40,136.80 859.60,131.50 857.40,128.60 851.80,127.80 854.20,136.80" fill="#fff" stroke="none"/>
<path d="M866.70,146 Q865.20,133 855.20,126.5" stroke-width="1.6" fill="none" />
<line x1="935.20" y1="139.80" x2="846.40" y2="139.80" stroke-width="1.8" />
<line x1="935.20" y1="143.80" x2="846.40" y2="143.80" stroke-width="2.3" />
<line x1="935.20" y1="146.20" x2="846.40" y2="146.20" stroke-width="1.3" />
<path d="M935.20,139 L935.20,196.0 Q934.20,204.0 917.00,215.0" stroke-width="2.0" fill="none" />
<path d="M933.00,139 L933.00,196.5 Q932.00,204.5 917.00,214.0" stroke-width="1.5" fill="none" />
<path d="M930.80,139 L930.80,197.0 Q929.80,205.0 917.00,213.0" stroke-width="1.5" fill="none" />
<path d="M928.40,139 L928.40,197.5 Q927.40,205.5 917.00,212.0" stroke-width="1.5" fill="none" />
<path d="M925.80,139 L925.80,198.0 Q924.80,206.0 917.00,211.0" stroke-width="1.7" fill="none" />
<line x1="935.20" y1="139.00" x2="935.20" y2="147.00" stroke-width="2.0" />
<path d="M922.90,146 L922.90,156 Q922.70,158 920.20,158 L898.20,158 Q895.20,158 895.20,155 L895.20,146" stroke-width="1.7" fill="none" />
<line x1="919.60" y1="139.00" x2="919.60" y2="158.00" stroke-width="1.4000000000000001" />
<line x1="917.00" y1="139.00" x2="917.00" y2="158.00" stroke-width="1.4000000000000001" />
<line x1="912.20" y1="139.00" x2="912.20" y2="158.00" stroke-width="1.4000000000000001" />
<line x1="899.90" y1="139.00" x2="899.90" y2="158.00" stroke-width="1.4000000000000001" />
<line x1="917.00" y1="158.00" x2="917.00" y2="188.00" stroke-width="1.5" />
<line x1="900.20" y1="125.50" x2="900.20" y2="188.00" stroke-width="1.5" />
<line x1="910.00" y1="158.00" x2="910.00" y2="188.00" stroke-width="3.6" />
<line x1="894.60" y1="146.00" x2="893.60" y2="188.00" stroke-width="1.5" />
<path d="M907.20,146 Q906.20,153 898.20,153" stroke-width="2.2" fill="none" />
<line x1="846.40" y1="139.00" x2="846.40" y2="186.00" stroke-width="1.6" />
<line x1="844.00" y1="130.00" x2="844.00" y2="150.00" stroke-width="1.4000000000000001" />
<path d="M846.40,186 Q846.70,191.5 850.20,192 Q853.20,191.5 853.20,188" stroke-width="1.5" fill="none" />
<circle cx="839.60" cy="132.20" r="4.3" stroke-width="2.4" fill="#000" />
<line x1="834.40" y1="126.00" x2="834.40" y2="231.00" stroke-width="1.6" />
<line x1="830.40" y1="126.00" x2="830.40" y2="231.00" stroke-width="1.5" />
<line x1="826.40" y1="126.00" x2="826.40" y2="231.00" stroke-width="1.7" />
<line x1="917.00" y1="188.00" x2="853.20" y2="188.00" stroke-width="1.6" />
<line x1="917.00" y1="188.00" x2="917.00" y2="343.20" stroke-width="1.6" />
<circle cx="900.20" cy="207.70" r="6.9" stroke-width="1.6" fill="#fff" />
<line x1="900.20" y1="188.00" x2="900.20" y2="207.70" stroke-width="1.5" />
<circle cx="900.20" cy="316.20" r="6.9" stroke-width="1.6" fill="#fff" />
<circle cx="814.20" cy="170.50" r="6.0" stroke-width="1.6" fill="#fff" />
<line x1="888.50" y1="188.00" x2="888.50" y2="343.20" stroke-width="1.5" />
<line x1="878.90" y1="188.00" x2="878.90" y2="343.20" stroke-width="1.4000000000000001" />
<line x1="874.90" y1="188.00" x2="874.90" y2="343.20" stroke-width="1.4000000000000001" />
<line x1="870.80" y1="188.00" x2="870.80" y2="231.00" stroke-width="1.4000000000000001" />
<line x1="868.50" y1="235.00" x2="868.50" y2="343.20" stroke-width="1.4000000000000001" />
<line x1="853.20" y1="188.00" x2="853.20" y2="231.00" stroke-width="1.4000000000000001" />
<line x1="843.60" y1="188.00" x2="843.60" y2="343.20" stroke-width="1.5" />
<line x1="858.00" y1="235.00" x2="858.00" y2="343.20" stroke-width="1.4000000000000001" />
<line x1="854.00" y1="235.00" x2="854.00" y2="343.20" stroke-width="1.4000000000000001" />
<path d="M875.70,230.6 L827.20,230.6 Q824.70,232.6 827.20,234.8 L875.70,234.8 Z" stroke-width="1.6" fill="#fff" />
<line x1="866.20" y1="230.60" x2="866.20" y2="234.80" stroke-width="1.3" />
<circle cx="826.20" cy="232.70" r="1.6" stroke-width="1.3" fill="#000" />
<line x1="917.00" y1="343.20" x2="772.10" y2="343.20" stroke-width="1.6" />
<line x1="627.00" y1="125.20" x2="917.20" y2="125.20" stroke-width="1.7" />
<path d="M748,124.8 L750,122.6 L795,122.6 L797,124.8" stroke-width="1.6" fill="none" />
<line x1="748.00" y1="122.60" x2="797.00" y2="122.60" stroke-width="1.3" />
<path d="M752,126.4 L793,126.4 L785.2,161.5 Q784.8,163.4 783,163.4 L762,163.4 Q760.2,163.4 759.8,161.5 Z" stroke-width="1.5" fill="#fff" />
<line x1="752.74" y1="129.80" x2="792.26" y2="129.80" stroke-width="1.4000000000000001" />
<line x1="753.56" y1="133.60" x2="791.44" y2="133.60" stroke-width="1.4000000000000001" />
<path d="M755.6,137 L788.6,137 L785.5,154.6 L758.7,154.6 Z" stroke-width="1.8" fill="none" />
<line x1="758.00" y1="158.40" x2="786.20" y2="158.40" stroke-width="1.5" />
<line x1="762.50" y1="137.00" x2="762.50" y2="163.00" stroke-width="1.6" />
<line x1="766.30" y1="137.00" x2="766.30" y2="163.00" stroke-width="1.6" />
<line x1="778.00" y1="137.00" x2="778.00" y2="163.00" stroke-width="1.6" />
<line x1="781.80" y1="137.00" x2="781.80" y2="163.00" stroke-width="1.6" />
<line x1="766.30" y1="146.00" x2="778.00" y2="146.00" stroke-width="1.5" />
<line x1="762.50" y1="142.00" x2="766.30" y2="142.00" stroke-width="1.5" />
<line x1="778.00" y1="142.00" x2="781.80" y2="142.00" stroke-width="1.5" />
<line x1="766.30" y1="150.50" x2="778.00" y2="150.50" stroke-width="1.5" />
<path d="M752.60,315.8 L752.60,214.6 A19.5,19.5 0 0 1 791.60,214.6 L791.60,315.8 A19.5,19.5 0 0 1 752.60,315.8" stroke-width="1.5" fill="none" />
<path d="M755.70,315.8 L755.70,214.6 A16.4,16.4 0 0 1 788.50,214.6 L788.50,315.8 A16.4,16.4 0 0 1 755.70,315.8" stroke-width="1.3" fill="none" />
<path d="M759.90,315.8 L759.90,214.6 A12.2,12.2 0 0 1 784.30,214.6 L784.30,315.8 A12.2,12.2 0 0 1 759.90,315.8" stroke-width="1.3" fill="none" />
<path d="M763.80,315.8 L763.80,214.6 A8.3,8.3 0 0 1 780.40,214.6 L780.40,315.8 A8.3,8.3 0 0 1 763.80,315.8" stroke-width="1.3" fill="none" />
<line x1="752.60" y1="214.60" x2="791.60" y2="214.60" stroke-width="1.3" />
<line x1="752.60" y1="315.80" x2="791.60" y2="315.80" stroke-width="1.3" />
<rect x="764.10" y="215.6" width="16" height="99.20000000000002" fill="#fff" stroke="none"/>
<line x1="763.80" y1="214.60" x2="763.80" y2="315.80" stroke-width="1.3" />
<line x1="780.40" y1="214.60" x2="780.40" y2="315.80" stroke-width="1.3" />
<circle cx="772.10" cy="219.00" r="6.9" stroke-width="1.4000000000000001" fill="#fff" />
<circle cx="772.10" cy="219.00" r="4.0" stroke-width="1.4000000000000001" fill="none" />
<circle cx="772.10" cy="219.00" r="1.8" stroke-width="1.2" fill="none" />
<rect x="766.10" y="268.8" width="12" height="39.4" rx="6" fill="#1c1c1c" stroke="none"/>
<line x1="767.90" y1="276" x2="767.90" y2="302" stroke="#777" stroke-width="0.8"/>
<line x1="776.30" y1="276" x2="776.30" y2="302" stroke="#777" stroke-width="0.8"/>
<circle cx="771.60" cy="303.3" r="1.2" fill="#999" stroke="none"/>
<path d="M655.20,343.2 L655.20,392 Q655.20,395.3 658.20,395.3 L759.60,395.3 Q762.60,395.3 762.60,392 L762.60,343.2" stroke-width="2.2" fill="none" />
<line x1="657.20" y1="395.60" x2="760.60" y2="395.60" stroke-width="2.6" />
<line x1="657.80" y1="343.20" x2="657.80" y2="394.50" stroke-width="1.5" />
<line x1="670.40" y1="343.20" x2="670.40" y2="394.50" stroke-width="1.5" />
<line x1="676.00" y1="343.20" x2="676.00" y2="394.50" stroke-width="1.5" />
<line x1="704.10" y1="343.20" x2="704.10" y2="394.50" stroke-width="1.5" />
<line x1="710.00" y1="343.20" x2="710.00" y2="394.50" stroke-width="1.5" />
<line x1="735.70" y1="343.20" x2="735.70" y2="394.50" stroke-width="1.5" />
<line x1="746.60" y1="343.20" x2="746.60" y2="394.50" stroke-width="1.5" />
<line x1="760.20" y1="343.20" x2="760.20" y2="394.50" stroke-width="1.5" />
<path d="M781.60,343.2 L781.60,392 Q781.60,395.3 784.60,395.3 L886.00,395.3 Q889.00,395.3 889.00,392 L889.00,343.2" stroke-width="2.2" fill="none" />
<line x1="783.60" y1="395.60" x2="887.00" y2="395.60" stroke-width="2.6" />
<line x1="784.20" y1="343.20" x2="784.20" y2="394.50" stroke-width="1.5" />
<line x1="796.90" y1="343.20" x2="796.90" y2="394.50" stroke-width="1.5" />
<line x1="808.90" y1="343.20" x2="808.90" y2="394.50" stroke-width="1.5" />
<line x1="834.00" y1="343.20" x2="834.00" y2="394.50" stroke-width="1.5" />
<line x1="841.40" y1="343.20" x2="841.40" y2="394.50" stroke-width="1.5" />
<line x1="869.00" y1="343.20" x2="869.00" y2="394.50" stroke-width="1.5" />
<line x1="873.00" y1="343.20" x2="873.00" y2="394.50" stroke-width="1.5" />
<line x1="886.60" y1="343.20" x2="886.60" y2="394.50" stroke-width="1.5" />
<line x1="765.00" y1="343.20" x2="765.00" y2="367.20" stroke-width="1.5" />
<line x1="780.20" y1="343.20" x2="780.20" y2="367.20" stroke-width="1.5" />
<line x1="765.00" y1="367.20" x2="780.20" y2="367.20" stroke-width="1.5" />
<line x1="772.10" y1="343.20" x2="772.10" y2="370.00" stroke-width="4.2" />
<circle cx="772.10" cy="373.30" r="5.4" stroke-width="1.3" fill="#000" />
<path d="M682.4,396 L682.4,430 Q682.4,434 685,437.8 L700,454.5 Q702,456.6 705,456.6 L840.6,456.6 Q843.4,456.6 845.4,454.5 L860,437.8 Q862.4,434 862.4,430 L862.4,396" stroke-width="1.7" fill="none" />
<line x1="682.40" y1="430.20" x2="862.40" y2="430.20" stroke-width="1.4000000000000001" />
<line x1="685.00" y1="437.80" x2="860.00" y2="437.80" stroke-width="1.6" />
<line x1="702.00" y1="454.60" x2="843.60" y2="454.60" stroke-width="1.3" />
<line x1="772.10" y1="100.60" x2="772.10" y2="186.00" stroke-width="1.5" />
<line x1="772.10" y1="190.50" x2="772.10" y2="194.50" stroke-width="1.5" />
<line x1="772.10" y1="198.50" x2="772.10" y2="213.00" stroke-width="1.5" />
<line x1="772.10" y1="225.50" x2="772.10" y2="232.00" stroke-width="1.5" />
<line x1="772.10" y1="237.00" x2="772.10" y2="258.00" stroke-width="1.5" />
<line x1="772.10" y1="261.50" x2="772.10" y2="268.00" stroke-width="1.5" />
<line x1="772.10" y1="309.00" x2="772.10" y2="318.00" stroke-width="1.5" />
<line x1="772.10" y1="322.00" x2="772.10" y2="330.00" stroke-width="1.5" />
<line x1="772.10" y1="334.00" x2="772.10" y2="343.00" stroke-width="1.5" />
<line x1="772.10" y1="384.50" x2="772.10" y2="399.00" stroke-width="1.5" />
<line x1="772.10" y1="403.50" x2="772.10" y2="407.00" stroke-width="1.5" />
<line x1="772.10" y1="412.00" x2="772.10" y2="432.00" stroke-width="1.5" />
<line x1="772.10" y1="435.50" x2="772.10" y2="439.50" stroke-width="1.5" />
<line x1="772.10" y1="443.00" x2="772.10" y2="474.00" stroke-width="1.5" />
<line x1="626.80" y1="27.60" x2="626.80" y2="125.00" stroke-width="1.5" />
<line x1="917.60" y1="27.60" x2="917.60" y2="125.00" stroke-width="1.5" />
<line x1="643.90" y1="61.60" x2="643.90" y2="125.00" stroke-width="1.5" />
<line x1="900.60" y1="61.60" x2="900.60" y2="125.00" stroke-width="1.5" />
<line x1="626.80" y1="38.10" x2="917.60" y2="38.10" stroke-width="1.6" />
<polygon points="626.80,38.10 641.20,35.60 641.20,40.60" fill="#000" stroke="none"/>
<polygon points="917.60,38.10 903.20,40.60 903.20,35.60" fill="#000" stroke="none"/>
<line x1="643.90" y1="72.40" x2="900.60" y2="72.40" stroke-width="1.6" />
<polygon points="643.90,72.40 658.30,69.90 658.30,74.90" fill="#000" stroke="none"/>
<polygon points="900.60,72.40 886.20,74.90 886.20,69.90" fill="#000" stroke="none"/>
<g transform="translate(758.60,34.00) scale(1.0000,1.0000) translate(0,-14)" stroke-width="1.900" stroke-linecap="round" stroke-linejoin="round" fill="none"><path vector-effect="non-scaling-stroke" transform="translate(0.00,0) scale(0.93,1)" d="M0.2,3.4 Q0.2,0 3.6,0 Q7,0 7,3.3 Q7,5.6 5,7.8 L0,14 L7.2,14"/><path vector-effect="non-scaling-stroke" transform="translate(10.10,0) scale(0.93,1)" d="M6.6,0 L0.9,0 L0.4,6 Q1.8,5 3.6,5 Q7.1,5 7.1,9.4 Q7.1,14 3.5,14 Q0.6,14 0.1,11.4"/><path vector-effect="non-scaling-stroke" transform="translate(20.20,0) scale(0.93,1)" d="M6.6,0 L0.9,0 L0.4,6 Q1.8,5 3.6,5 Q7.1,5 7.1,9.4 Q7.1,14 3.5,14 Q0.6,14 0.1,11.4"/></g>
<g transform="translate(758.60,68.20) scale(1.0000,1.0000) translate(0,-14)" stroke-width="1.900" stroke-linecap="round" stroke-linejoin="round" fill="none"><path vector-effect="non-scaling-stroke" transform="translate(0.00,0) scale(0.93,1)" d="M0.2,3.4 Q0.2,0 3.6,0 Q7,0 7,3.3 Q7,5.6 5,7.8 L0,14 L7.2,14"/><path vector-effect="non-scaling-stroke" transform="translate(10.10,0) scale(0.93,1)" d="M0.2,3.4 Q0.2,0 3.6,0 Q7,0 7,3.3 Q7,5.6 5,7.8 L0,14 L7.2,14"/><path vector-effect="non-scaling-stroke" transform="translate(20.20,0) scale(0.93,1)" d="M6.6,0 L0.9,0 L0.4,6 Q1.8,5 3.6,5 Q7.1,5 7.1,9.4 Q7.1,14 3.5,14 Q0.6,14 0.1,11.4"/></g>
<line x1="917.60" y1="122.80" x2="992.00" y2="122.80" stroke-width="1.5" />
<line x1="900.40" y1="207.70" x2="992.30" y2="207.70" stroke-width="1.5" />
<line x1="900.40" y1="316.30" x2="992.00" y2="316.30" stroke-width="1.5" />
<line x1="981.40" y1="122.80" x2="981.40" y2="316.30" stroke-width="1.5" />
<polygon points="981.40,122.80 983.80,136.80 979.00,136.80" fill="#000" stroke="none"/>
<polygon points="981.40,207.70 979.00,193.70 983.80,193.70" fill="#000" stroke="none"/>
<polygon points="981.40,207.70 983.80,221.70 979.00,221.70" fill="#000" stroke="none"/>
<polygon points="981.40,316.30 979.00,302.30 983.80,302.30" fill="#000" stroke="none"/>
<g transform="translate(977.00,174.50) rotate(-90) scale(1.0000,1.0000) translate(0,-14)" stroke-width="1.900" stroke-linecap="round" stroke-linejoin="round" fill="none"><path vector-effect="non-scaling-stroke" transform="translate(0.00,0) scale(0.93,1)" d="M0,0 L7,0 L2.6,14"/><path vector-effect="non-scaling-stroke" transform="translate(10.10,0) scale(0.93,1)" d="M6.6,0 L0.9,0 L0.4,6 Q1.8,5 3.6,5 Q7.1,5 7.1,9.4 Q7.1,14 3.5,14 Q0.6,14 0.1,11.4"/></g>
<g transform="translate(977.00,271.00) rotate(-90) scale(1.0000,1.0000) translate(0,-14)" stroke-width="1.900" stroke-linecap="round" stroke-linejoin="round" fill="none"><path vector-effect="non-scaling-stroke" transform="translate(0.00,0) scale(0.93,1)" d="M0.5,11.6 Q1,14 3.4,14 Q6.9,14 6.9,9.4 L6.9,4.2 Q6.9,0 3.5,0 Q0.1,0 0.1,4.2 Q0.1,8.2 3.5,8.2 Q6.2,8.2 6.9,5.4"/><path vector-effect="non-scaling-stroke" transform="translate(10.10,0) scale(0.93,1)" d="M6.6,0 L0.9,0 L0.4,6 Q1.8,5 3.6,5 Q7.1,5 7.1,9.4 Q7.1,14 3.5,14 Q0.6,14 0.1,11.4"/></g>
<line x1="526.30" y1="187.80" x2="627.20" y2="187.80" stroke-width="1.6" />
<line x1="526.00" y1="343.20" x2="624.60" y2="343.20" stroke-width="1.5" />
<line x1="537.60" y1="187.80" x2="537.60" y2="343.20" stroke-width="1.5" />
<polygon points="537.60,187.80 540.00,201.80 535.20,201.80" fill="#000" stroke="none"/>
<polygon points="537.60,343.20 535.20,329.20 540.00,329.20" fill="#000" stroke="none"/>
<g transform="translate(533.20,278.30) rotate(-90) scale(1.0286,1.0286) translate(0,-14)" stroke-width="1.900" stroke-linecap="round" stroke-linejoin="round" fill="none"><path vector-effect="non-scaling-stroke" transform="translate(0.00,0) scale(1.0,1)" d="M0,3.4 L3.6,0 L3.6,14"/><path vector-effect="non-scaling-stroke" transform="translate(7.30,0) scale(0.93,1)" d="M0.2,2.6 Q0.7,0 3.5,0 Q6.8,0 6.8,3.3 Q6.8,6.4 3.3,6.5 Q7.1,6.6 7.1,10.3 Q7.1,14 3.5,14 Q0.5,14 0,11.2"/><path vector-effect="non-scaling-stroke" transform="translate(17.40,0) scale(0.93,1)" d="M6.6,2.4 Q6.1,0 3.7,0 Q0.2,0 0.2,4.6 L0.2,9.8 Q0.2,14 3.6,14 Q7,14 7,9.8 Q7,5.8 3.6,5.8 Q0.9,5.8 0.2,8.6"/></g>
<line x1="566.20" y1="208.00" x2="640.00" y2="208.00" stroke-width="1.5" />
<line x1="576.40" y1="160.00" x2="576.40" y2="176.00" stroke-width="1.5" />
<polygon points="576.40,187.80 574.00,173.80 578.80,173.80" fill="#000" stroke="none"/>
<line x1="576.40" y1="208.00" x2="576.40" y2="272.00" stroke-width="1.5" />
<polygon points="576.40,208.00 578.80,222.00 574.00,222.00" fill="#000" stroke="none"/>
<g transform="translate(571.30,268.20) rotate(-90) scale(0.9571,0.9571) translate(0,-14)" stroke-width="1.900" stroke-linecap="round" stroke-linejoin="round" fill="none"><path vector-effect="non-scaling-stroke" transform="translate(0.00,0) scale(1.0,1)" d="M0,3.4 L3.6,0 L3.6,14"/><path vector-effect="non-scaling-stroke" transform="translate(7.30,0) scale(0.93,1)" d="M0,0 L7,0 L2.6,14"/><path vector-effect="non-scaling-stroke" transform="translate(17.40,0) scale(1.0,1)" d="M0.6,13.2 L0.6,14"/><path vector-effect="non-scaling-stroke" transform="translate(20.80,0) scale(0.93,1)" d="M6.6,0 L0.9,0 L0.4,6 Q1.8,5 3.6,5 Q7.1,5 7.1,9.4 Q7.1,14 3.5,14 Q0.6,14 0.1,11.4"/></g>
<line x1="527.30" y1="396.70" x2="559.10" y2="396.70" stroke-width="1.7" />
<line x1="559.10" y1="396.70" x2="668.50" y2="293.30" stroke-width="1.6" />
<polygon points="638.70,321.30 630.81,331.89 627.66,328.54" fill="#000" stroke="none"/>
<polygon points="648.90,311.60 656.79,301.01 659.94,304.36" fill="#000" stroke="none"/>
<g transform="translate(527.00,392.00) scale(0.9643,0.9643) translate(0,-14)" stroke-width="1.900" stroke-linecap="round" stroke-linejoin="round" fill="none"><path vector-effect="non-scaling-stroke" transform="translate(0.00,0) scale(1.0,1)" d="M0,7.6 Q0.2,2.6 5.7,2.6 Q10.6,2.6 10.6,7 Q10.4,12 4.9,12 Q0,12 0,7.6 Z M8,-0.4 L2.7,14.3"/><path vector-effect="non-scaling-stroke" transform="translate(13.60,0) scale(1.0,1)" d="M0,3.4 L3.6,0 L3.6,14"/><path vector-effect="non-scaling-stroke" transform="translate(20.90,0) scale(0.93,1)" d="M0.2,3.4 Q0.2,0 3.6,0 Q7,0 7,3.3 Q7,5.6 5,7.8 L0,14 L7.2,14"/></g>
</g>
<defs><mask id="wmask" maskUnits="userSpaceOnUse" x="0" y="0" width="1000" height="549"><rect x="228" y="101" width="538" height="346" fill="#fff"/><g fill="#000" stroke="none"><rect x="309.8" y="176.6" width="13.80" height="75.20"/><rect x="309.8" y="176.6" width="88.50" height="12.00"/><rect x="384.3" y="176.6" width="14.00" height="75.20"/><path d="M348.7,203 L348.7,238 Q348,270 302,289" fill="none" stroke="#000" stroke-width="13"/><polygon points="371.5,248 409.8,277.8 402,288.8 363.5,257.5"/><rect x="444.1" y="174" width="98.20" height="9.00"/><rect x="434.7" y="189.3" width="117.80" height="9.00"/><rect x="434.7" y="189.3" width="13.30" height="26.30"/><rect x="538.5" y="189.3" width="14.00" height="26.30"/><rect x="485" y="174" width="16.50" height="60.00"/><rect x="451.8" y="205.4" width="29.20" height="8.20"/><rect x="451.8" y="220" width="29.20" height="8.90"/><rect x="504.8" y="205.4" width="29.90" height="8.20"/><rect x="504.8" y="220" width="29.90" height="8.90"/><rect x="447.8" y="233.5" width="90.70" height="9.90"/><rect x="447.8" y="233.5" width="13.90" height="57.70"/><rect x="525.6" y="233.5" width="12.90" height="57.70"/><rect x="447.8" y="252.3" width="90.70" height="10.70"/><rect x="447.8" y="273.5" width="90.70" height="10.20"/><rect x="486.4" y="233.5" width="14.30" height="50.20"/><rect x="627.5" y="170" width="14.00" height="19.30"/><rect x="581.6" y="188" width="108.40" height="10.30"/><path d="M592.8,208.7 H675 V248.2 H592.8 Z M607.3,219.1 V235.5 H661.5 V219.1 Z" fill-rule="evenodd"/><path d="M619.6,246 Q618,272 584,284.5" fill="none" stroke="#000" stroke-width="12.5"/><path d="M645.2,246 L645.2,271 Q645.2,280 654,280 L678,280 Q685.2,280 685.5,264.5" fill="none" stroke="#000" stroke-width="13.6"/><text transform="translate(300.9,393.2) scale(0.7,1.155)" font-family="Liberation Sans, sans-serif" font-size="111" stroke="#000" stroke-width="3.2">B</text><text transform="translate(361.2,393.2) scale(0.685,1.0)" font-family="Liberation Sans, sans-serif" font-size="111" stroke="#000" stroke-width="3.2">a</text><text transform="translate(534.2,393.2) scale(0.785,1.0)" font-family="Liberation Sans, sans-serif" font-size="111" stroke="#000" stroke-width="3.2">e</text><text transform="translate(589.2,393.2) scale(0.825,1.0)" font-family="Liberation Sans, sans-serif" font-size="111" stroke="#000" stroke-width="3.2">y</text><text transform="translate(647.3,393.2) scale(0.83,1.103)" font-family="Liberation Sans, sans-serif" font-size="111" stroke="#000" stroke-width="3.2">k</text><rect x="437.4" y="334.2" width="10.00" height="59.00"/><rect x="437.4" y="306" width="10.00" height="15.00"/><rect x="495.6" y="304.4" width="8.80" height="88.80"/></g></mask></defs><rect x="228" y="101" width="538" height="346" fill="#fff" opacity="0.2" mask="url(#wmask)"/><defs><filter id="wblur" x="-5%" y="-5%" width="110%" height="110%"><feGaussianBlur stdDeviation="0.7"/></filter></defs><g fill="#c9c9c9" stroke="none" filter="url(#wblur)" style="mix-blend-mode:multiply"><rect x="309.8" y="176.6" width="13.80" height="75.20"/><rect x="309.8" y="176.6" width="88.50" height="12.00"/><rect x="384.3" y="176.6" width="14.00" height="75.20"/><path d="M348.7,203 L348.7,238 Q348,270 302,289" fill="none" stroke="#c9c9c9" stroke-width="13"/><polygon points="371.5,248 409.8,277.8 402,288.8 363.5,257.5"/><rect x="444.1" y="174" width="98.20" height="9.00"/><rect x="434.7" y="189.3" width="117.80" height="9.00"/><rect x="434.7" y="189.3" width="13.30" height="26.30"/><rect x="538.5" y="189.3" width="14.00" height="26.30"/><rect x="485" y="174" width="16.50" height="60.00"/><rect x="451.8" y="205.4" width="29.20" height="8.20"/><rect x="451.8" y="220" width="29.20" height="8.90"/><rect x="504.8" y="205.4" width="29.90" height="8.20"/><rect x="504.8" y="220" width="29.90" height="8.90"/><rect x="447.8" y="233.5" width="90.70" height="9.90"/><rect x="447.8" y="233.5" width="13.90" height="57.70"/><rect x="525.6" y="233.5" width="12.90" height="57.70"/><rect x="447.8" y="252.3" width="90.70" height="10.70"/><rect x="447.8" y="273.5" width="90.70" height="10.20"/><rect x="486.4" y="233.5" width="14.30" height="50.20"/><rect x="627.5" y="170" width="14.00" height="19.30"/><rect x="581.6" y="188" width="108.40" height="10.30"/><path d="M592.8,208.7 H675 V248.2 H592.8 Z M607.3,219.1 V235.5 H661.5 V219.1 Z" fill-rule="evenodd"/><path d="M619.6,246 Q618,272 584,284.5" fill="none" stroke="#c9c9c9" stroke-width="12.5"/><path d="M645.2,246 L645.2,271 Q645.2,280 654,280 L678,280 Q685.2,280 685.5,264.5" fill="none" stroke="#c9c9c9" stroke-width="13.6"/><text transform="translate(300.9,393.2) scale(0.7,1.155)" font-family="Liberation Sans, sans-serif" font-size="111" stroke="#c9c9c9" stroke-width="3.2">B</text><text transform="translate(361.2,393.2) scale(0.685,1.0)" font-family="Liberation Sans, sans-serif" font-size="111" stroke="#c9c9c9" stroke-width="3.2">a</text><text transform="translate(534.2,393.2) scale(0.785,1.0)" font-family="Liberation Sans, sans-serif" font-size="111" stroke="#c9c9c9" stroke-width="3.2">e</text><text transform="translate(589.2,393.2) scale(0.825,1.0)" font-family="Liberation Sans, sans-serif" font-size="111" stroke="#c9c9c9" stroke-width="3.2">y</text><text transform="translate(647.3,393.2) scale(0.83,1.103)" font-family="Liberation Sans, sans-serif" font-size="111" stroke="#c9c9c9" stroke-width="3.2">k</text><rect x="437.4" y="334.2" width="10.00" height="59.00"/><rect x="437.4" y="306" width="10.00" height="15.00"/><rect x="495.6" y="304.4" width="8.80" height="88.80"/><ellipse cx="718.4" cy="141.3" rx="38.5" ry="33.3" fill="none" stroke="#d6d6d6" stroke-width="4.9"/><text transform="translate(699.4,162.2) scale(1.044,1)" font-family="Liberation Sans, sans-serif" font-weight="bold" font-size="60.8" fill="#d6d6d6">R</text></g>
</svg>
</body></html>
